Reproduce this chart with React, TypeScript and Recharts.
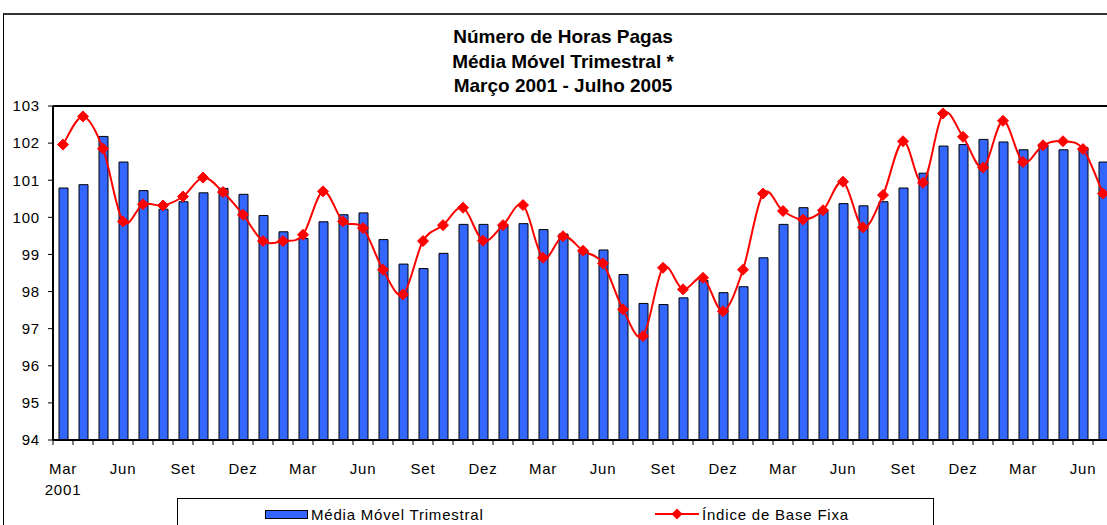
import React from "react";
import { ComposedChart, Bar, Line, XAxis, YAxis, ReferenceLine } from "recharts";

const months = [
  "Mar 2001","Abr 2001","Mai 2001","Jun 2001","Jul 2001","Ago 2001","Set 2001","Out 2001","Nov 2001","Dez 2001",
  "Jan 2002","Fev 2002","Mar 2002","Abr 2002","Mai 2002","Jun 2002","Jul 2002","Ago 2002","Set 2002","Out 2002","Nov 2002","Dez 2002",
  "Jan 2003","Fev 2003","Mar 2003","Abr 2003","Mai 2003","Jun 2003","Jul 2003","Ago 2003","Set 2003","Out 2003","Nov 2003","Dez 2003",
  "Jan 2004","Fev 2004","Mar 2004","Abr 2004","Mai 2004","Jun 2004","Jul 2004","Ago 2004","Set 2004","Out 2004","Nov 2004","Dez 2004",
  "Jan 2005","Fev 2005","Mar 2005","Abr 2005","Mai 2005","Jun 2005","Jul 2005",
];

const mediaMovel = [
  100.79, 100.88, 102.18, 101.49, 100.72, 100.22, 100.42, 100.66, 100.78, 100.62,
  100.05, 99.61, 99.43, 99.88, 100.07, 100.12, 99.4, 98.74, 98.62, 99.03, 99.81, 99.81,
  99.8, 99.83, 99.67, 99.55, 99.1, 99.12, 98.46, 97.68, 97.65, 97.83, 98.3, 97.97,
  98.13, 98.91, 99.81, 100.26, 100.2, 100.37, 100.31, 100.42, 100.79, 101.19, 101.92, 101.96,
  102.1, 102.03, 101.82, 101.95, 101.82, 101.88, 101.49,
];

const indiceBase = [
  101.96, 102.72, 101.85, 99.89, 100.35, 100.32, 100.56, 101.07, 100.68, 100.07,
  99.36, 99.36, 99.53, 100.7, 99.89, 99.71, 98.59, 97.92, 99.36, 99.79, 100.26, 99.37,
  99.79, 100.33, 98.91, 99.49, 99.1, 98.76, 97.52, 96.8, 98.64, 98.06, 98.37, 97.47,
  98.59, 100.64, 100.17, 99.94, 100.19, 100.96, 99.73, 100.6, 102.05, 100.93, 102.8, 102.17,
  101.34, 102.6, 101.49, 101.94, 102.05, 101.84, 100.64,
];

const yTicks = [94, 95, 96, 97, 98, 99, 100, 101, 102, 103];
const titleLines = ["Número de Horas Pagas", "Média Móvel Trimestral *", "Março 2001 - Julho 2005"];
const seriesNames = ["Média Móvel Trimestral", "Índice de Base Fixa"];

const BAR_COLOR = "#3366FF";
const LINE_COLOR = "#FF0000";
const FONT = '"Liberation Sans", Arial, sans-serif';
const LS = 0.8;

const data = months.map((m, i) => ({ month: m, media: mediaMovel[i], indice: indiceBase[i] }));

// Catmull-Rom style smoothing (similar to Excel smoothed lines)
function smoothCurve(context: any) {
  let pts: number[][] = [];
  return {
    areaStart() {},
    areaEnd() {},
    lineStart() {
      pts = [];
    },
    lineEnd() {
      const n = pts.length;
      if (!n) return;
      context.moveTo(pts[0][0], pts[0][1]);
      for (let i = 0; i < n - 1; i++) {
        const p0 = pts[Math.max(i - 1, 0)];
        const p1 = pts[i];
        const p2 = pts[i + 1];
        const p3 = pts[Math.min(i + 2, n - 1)];
        context.bezierCurveTo(
          p1[0] + (p2[0] - p0[0]) / 6,
          p1[1] + (p2[1] - p0[1]) / 6,
          p2[0] - (p3[0] - p1[0]) / 6,
          p2[1] - (p3[1] - p1[1]) / 6,
          p2[0],
          p2[1]
        );
      }
    },
    point(x: number, y: number) {
      pts.push([+x, +y]);
    },
  };
}

const Diamond = (props: any) => {
  const { cx, cy, index } = props;
  if (cx == null || cy == null) return null;
  const r = 5.5;
  return (
    <polygon
      key={`d-${index}`}
      points={`${cx},${cy - r} ${cx + r},${cy} ${cx},${cy + r} ${cx - r},${cy}`}
      fill={LINE_COLOR}
      stroke={LINE_COLOR}
      strokeWidth={1}
    />
  );
};

const XTick = (props: any) => {
  const { x, y, payload, index } = props;
  const half = payload && payload.offset ? payload.offset : 10;
  const label = String(payload.value).split(" ")[0];
  const year = String(payload.value).split(" ")[1];
  return (
    <g>
      <line x1={x - half} y1={y} x2={x - half} y2={y + 5} stroke="#000" strokeWidth={1} />
      {index % 3 === 0 && (
        <text x={x} y={y + 34} textAnchor="middle" fontSize={15} letterSpacing={LS} fontFamily={FONT} fill="#000">
          {label}
        </text>
      )}
      {index === 0 && (
        <text x={x} y={y + 55} textAnchor="middle" fontSize={15} letterSpacing={LS} fontFamily={FONT} fill="#000">
          {year}
        </text>
      )}
    </g>
  );
};

export default function App() {
  return (
    <div
      style={{
        position: "absolute",
        left: 0,
        top: 0,
        width: 1107,
        height: 525,
        overflow: "hidden",
        background: "#fff",
        fontFamily: FONT,
      }}
    >
      <div
        style={{
          position: "absolute",
          left: 3,
          top: 13,
          width: 1300,
          height: 700,
          borderLeft: "1px solid #000",
          borderTop: "2px solid #333",
          boxSizing: "border-box",
        }}
      />
      <div
        style={{
          position: "absolute",
          left: 0,
          top: 25,
          width: 1126,
          textAlign: "center",
          fontWeight: "bold",
          fontSize: 19,
          lineHeight: "24.5px",
          color: "#000",
        }}
      >
        {titleLines.map((t) => (
          <div key={t}>{t}</div>
        ))}
      </div>
      <div style={{ position: "absolute", left: 0, top: 0 }}>
        <ComposedChart
          width={1130}
          height={525}
          data={data}
          margin={{ top: 106, right: 17, left: 3, bottom: 55 }}
          barCategoryGap="55%"
        >
          <XAxis
            dataKey="month"
            interval={0}
            height={30}
            tickLine={false}
            tickSize={0}
            tickMargin={0}
            axisLine={{ stroke: "#000", strokeWidth: 2 }}
            tick={<XTick />}
          />
          <YAxis
            domain={[94, 103]}
            ticks={yTicks}
            width={50}
            tickSize={5}
            tickMargin={8}
            axisLine={{ stroke: "#000", strokeWidth: 2 }}
            tickLine={{ stroke: "#000" }}
            tick={{ fontSize: 15, fill: "#000", fontFamily: FONT, letterSpacing: LS }}
            allowDataOverflow
          />
          <ReferenceLine y={103} stroke="#000" strokeWidth={2} ifOverflow="visible" />
          <Bar
            dataKey="media"
            name={seriesNames[0]}
            fill={BAR_COLOR}
            stroke="#000"
            strokeWidth={1}
            barSize={9}
            isAnimationActive={false}
          />
          <Line
            dataKey="indice"
            name={seriesNames[1]}
            type={smoothCurve as any}
            stroke={LINE_COLOR}
            strokeWidth={2}
            dot={<Diamond />}
            activeDot={false}
            isAnimationActive={false}
          />
        </ComposedChart>
      </div>
      <div
        style={{
          position: "absolute",
          left: 177,
          top: 498,
          width: 757,
          height: 100,
          border: "1px solid #000",
          boxSizing: "border-box",
        }}
      />
      <div
        style={{
          position: "absolute",
          left: 265,
          top: 510,
          width: 43,
          height: 9,
          background: BAR_COLOR,
          border: "1px solid #000",
          boxSizing: "border-box",
        }}
      />
      <div
        style={{
          position: "absolute",
          left: 311,
          top: 506,
          fontSize: 15,
          letterSpacing: LS,
          lineHeight: "18px",
          color: "#000",
          whiteSpace: "nowrap",
        }}
      >
        {seriesNames[0]}
      </div>
      <svg style={{ position: "absolute", left: 653, top: 504 }} width={48} height={20}>
        <line x1={2} y1={10} x2={46} y2={10} stroke={LINE_COLOR} strokeWidth={2} />
        <polygon points="24,4.5 29.5,10 24,15.5 18.5,10" fill={LINE_COLOR} />
      </svg>
      <div
        style={{
          position: "absolute",
          left: 702,
          top: 506,
          fontSize: 15,
          letterSpacing: LS,
          lineHeight: "18px",
          color: "#000",
          whiteSpace: "nowrap",
        }}
      >
        {seriesNames[1]}
      </div>
    </div>
  );
}
